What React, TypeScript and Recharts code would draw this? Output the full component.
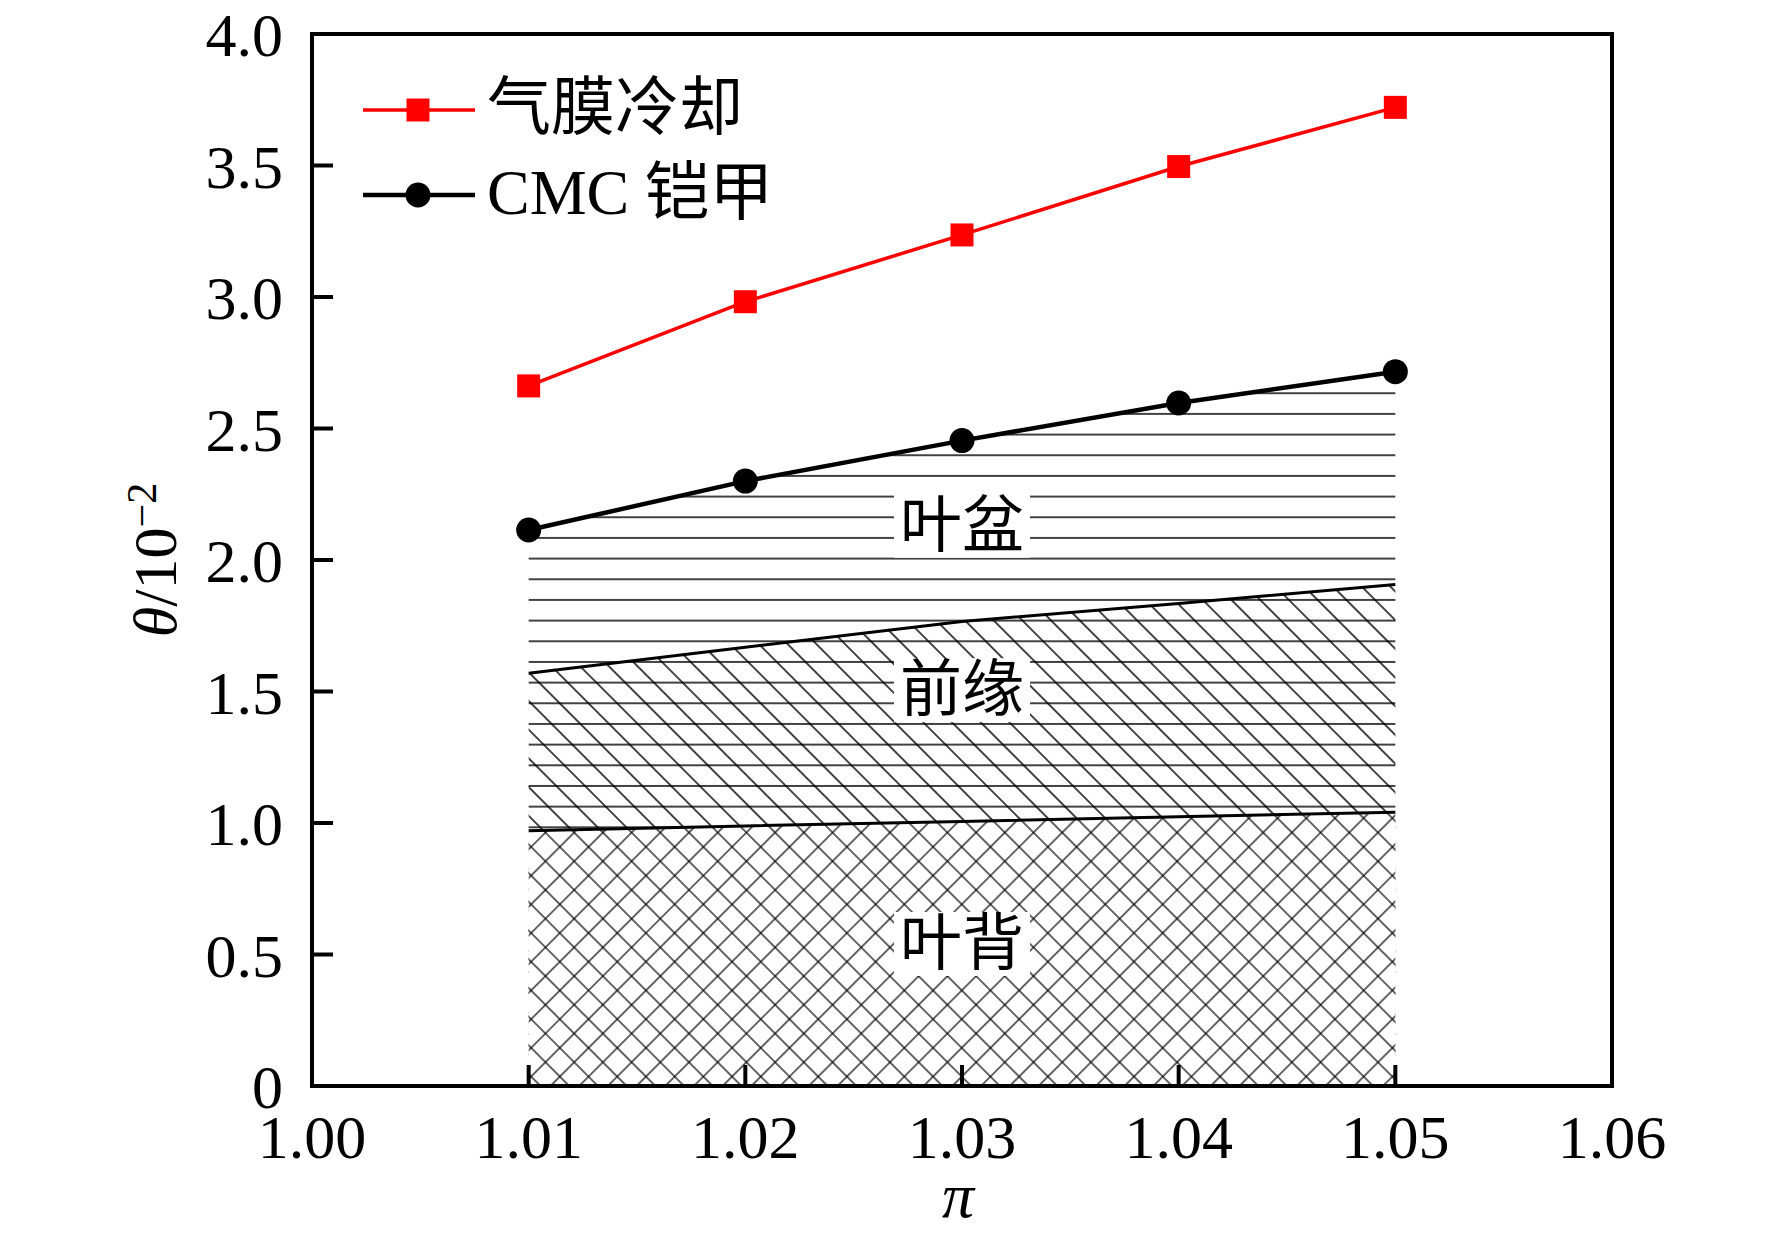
import React from "react";
import { ComposedChart, Area, Line, XAxis, YAxis, ReferenceArea, ReferenceDot } from "recharts";

// pressure ratio on the x axis
const piValues = [1.01, 1.02, 1.03, 1.04, 1.05];
// overall cooling effect, θ / 10^-2
const filmCooling = [2.662, 2.982, 3.236, 3.496, 3.721];
const cmcArmor = [2.114, 2.3, 2.454, 2.597, 2.716];
// upper edges of the split bands under the CMC curve
const leadingEdgeTop = [1.569, 1.668, 1.766, 1.835, 1.907];
const suctionTop = [0.971, 0.989, 1.006, 1.024, 1.041];

const xTicks = [1.0, 1.01, 1.02, 1.03, 1.04, 1.05, 1.06];
const yTicks = [0, 0.5, 1.0, 1.5, 2.0, 2.5, 3.0, 3.5, 4.0];

const seriesNames = ["气膜冷却", "CMC 铠甲"];
const seriesColors = ["#ff0000", "#000000"];
const regionNames = ["叶盆", "前缘", "叶背"];
const regionLabelY = [2.13, 1.505, 0.54];
const regionLabelX = 1.03;

const data = piValues.map((pi, i) => ({
  pi,
  film: filmCooling[i],
  cmc: cmcArmor[i],
  pressureSide: cmcArmor[i],
  leadingEdge: leadingEdgeTop[i],
  suctionSide: suctionTop[i],
}));

const SERIF = "'Liberation Serif', 'Times New Roman', serif";
const CJK = "'Liberation Serif', 'Noto Sans CJK SC', serif";

const SquareDot = (props: any) => {
  const { cx, cy, index } = props;
  return <rect key={`sq-${index}`} x={cx - 11.5} y={cy - 11.5} width={23} height={23} fill="#ff0000" />;
};

const CircleDot = (props: any) => {
  const { cx, cy, index } = props;
  return <circle key={`ci-${index}`} cx={cx} cy={cy} r={12.5} fill="#000" />;
};

const RegionLabel = ({ cx, cy, text }: { cx: number; cy: number; text: string }) => (
  <g>
    <rect x={cx - 68} y={cy - 32} width={136} height={64} fill="#fff" />
    <text
      x={cx}
      y={cy}
      textAnchor="middle"
      dominantBaseline="central"
      fontSize={62}
      fontFamily={CJK}
      fill="#000"
    >
      {text}
    </text>
  </g>
);

const YTitle = (props: any) => {
  const vb = props.viewBox || { y: 34, height: 1052 };
  const cy = vb.y + vb.height / 2;
  const x = 176;
  return (
    <text
      x={x}
      y={cy}
      transform={`rotate(-90, ${x}, ${cy})`}
      textAnchor="middle"
      fontSize={62}
      fontFamily={SERIF}
      fill="#000"
    >
      <tspan fontStyle="italic">θ</tspan>
      <tspan>/10</tspan>
      <tspan fontSize={42} dy={-20}>−2</tspan>
    </text>
  );
};

const XTitle = (props: any) => {
  const vb = props.viewBox || { x: 312, width: 1300 };
  const cx = vb.x + vb.width / 2;
  return (
    <text x={cx - 4} y={1217} textAnchor="middle" fontSize={64} fontStyle="italic" fontFamily={SERIF} fill="#000">
      π
    </text>
  );
};

function LegendBox() {
  const rows = [110, 195];
  return (
    <svg width={1772} height={1235} style={{ position: "absolute", left: 0, top: 0, pointerEvents: "none" }}>
      {seriesNames.map((name, i) => (
        <g key={name}>
          <line x1={363} x2={475} y1={rows[i]} y2={rows[i]} stroke={seriesColors[i]} strokeWidth={i === 0 ? 3.5 : 4.5} />
          {i === 0 ? (
            <rect x={418 - 11.5} y={rows[i] - 11.5} width={23} height={23} fill={seriesColors[i]} />
          ) : (
            <circle cx={418} cy={rows[i]} r={12.5} fill={seriesColors[i]} />
          )}
          <text x={487} y={rows[i] + 19} fontSize={64} fontFamily={CJK} fill="#000">
            {name}
          </text>
        </g>
      ))}
    </svg>
  );
}

export default function App() {
  return (
    <div style={{ position: "absolute", left: 0, top: 0, width: 1772, height: 1235, background: "#fff" }}>
      <ComposedChart width={1772} height={1235} data={data} margin={{ top: 34, right: 160, bottom: 49, left: 212 }}>
        <defs>
          <pattern id="hatchH" patternUnits="userSpaceOnUse" width={40} height={20.67} y={0.5}>
            <line x1={0} x2={40} y1={0} y2={0} stroke="#000" strokeWidth={1.4} />
            <line x1={0} x2={40} y1={20.67} y2={20.67} stroke="#000" strokeWidth={1.4} />
          </pattern>
          <pattern id="hatchB" patternUnits="userSpaceOnUse" width={40} height={20.3} patternTransform="rotate(45)">
            <line x1={0} x2={40} y1={0} y2={0} stroke="#000" strokeWidth={1.3} />
            <line x1={0} x2={40} y1={20.3} y2={20.3} stroke="#000" strokeWidth={1.3} />
          </pattern>
          <pattern id="hatchX" patternUnits="userSpaceOnUse" width={20.3} height={20.3} patternTransform="rotate(45)">
            <rect x={0} y={0} width={20.3} height={20.3} fill="#fff" />
            <line x1={0} x2={20.3} y1={0} y2={0} stroke="#000" strokeWidth={1.2} />
            <line x1={0} x2={20.3} y1={20.3} y2={20.3} stroke="#000" strokeWidth={1.2} />
            <line x1={0} x2={0} y1={0} y2={20.3} stroke="#000" strokeWidth={1.2} />
            <line x1={20.3} x2={20.3} y1={0} y2={20.3} stroke="#000" strokeWidth={1.2} />
          </pattern>
        </defs>
        <XAxis
          dataKey="pi"
          type="number"
          domain={[1.0, 1.06]}
          ticks={xTicks}
          interval={0}
          height={100}
          axisLine={false}
          tickSize={-21}
          tickMargin={49}
          tickLine={{ stroke: "#000", strokeWidth: 4 }}
          tickFormatter={(v: number) => v.toFixed(2)}
          tick={{ fontSize: 62, fontFamily: SERIF, fill: "#000" }}
          label={<XTitle />}
        />
        <YAxis
          type="number"
          domain={[0, 4]}
          ticks={yTicks}
          interval={0}
          width={100}
          axisLine={false}
          tickSize={-21}
          tickMargin={50}
          tickLine={{ stroke: "#000", strokeWidth: 4 }}
          tickFormatter={(v: number) => (v === 0 ? "0" : v.toFixed(1))}
          tick={{ fontSize: 62, fontFamily: SERIF, fill: "#000" }}
          label={<YTitle />}
        />
        <Area
          type="linear"
          dataKey="pressureSide"
          stroke="none"
          fill="url(#hatchH)"
          fillOpacity={1}
          isAnimationActive={false}
          dot={false}
          activeDot={false}
        />
        <Area
          type="linear"
          dataKey="leadingEdge"
          stroke="none"
          fill="url(#hatchB)"
          fillOpacity={1}
          isAnimationActive={false}
          dot={false}
          activeDot={false}
        />
        <Area
          type="linear"
          dataKey="suctionSide"
          stroke="none"
          fill="url(#hatchX)"
          fillOpacity={1}
          isAnimationActive={false}
          dot={false}
          activeDot={false}
        />
        <Line
          type="linear"
          dataKey="leadingEdge"
          stroke="#000"
          strokeWidth={3}
          dot={false}
          activeDot={false}
          isAnimationActive={false}
        />
        <Line
          type="linear"
          dataKey="suctionSide"
          stroke="#000"
          strokeWidth={3}
          dot={false}
          activeDot={false}
          isAnimationActive={false}
        />
        {regionNames.map((name, i) => (
          <ReferenceDot
            key={name}
            x={regionLabelX}
            y={regionLabelY[i]}
            r={0}
            shape={(p: any) => <RegionLabel cx={p.cx} cy={p.cy} text={name} />}
          />
        ))}
        <Line
          type="linear"
          dataKey="film"
          name={seriesNames[0]}
          stroke={seriesColors[0]}
          strokeWidth={3.5}
          dot={<SquareDot />}
          activeDot={false}
          isAnimationActive={false}
        />
        <Line
          type="linear"
          dataKey="cmc"
          name={seriesNames[1]}
          stroke={seriesColors[1]}
          strokeWidth={4.5}
          dot={<CircleDot />}
          activeDot={false}
          isAnimationActive={false}
        />
        <ReferenceArea
          x1={1.0}
          x2={1.06}
          y1={0}
          y2={4}
          fill="none"
          stroke="#000"
          strokeWidth={4}
          ifOverflow="visible"
        />
      </ComposedChart>
      <LegendBox />
    </div>
  );
}
